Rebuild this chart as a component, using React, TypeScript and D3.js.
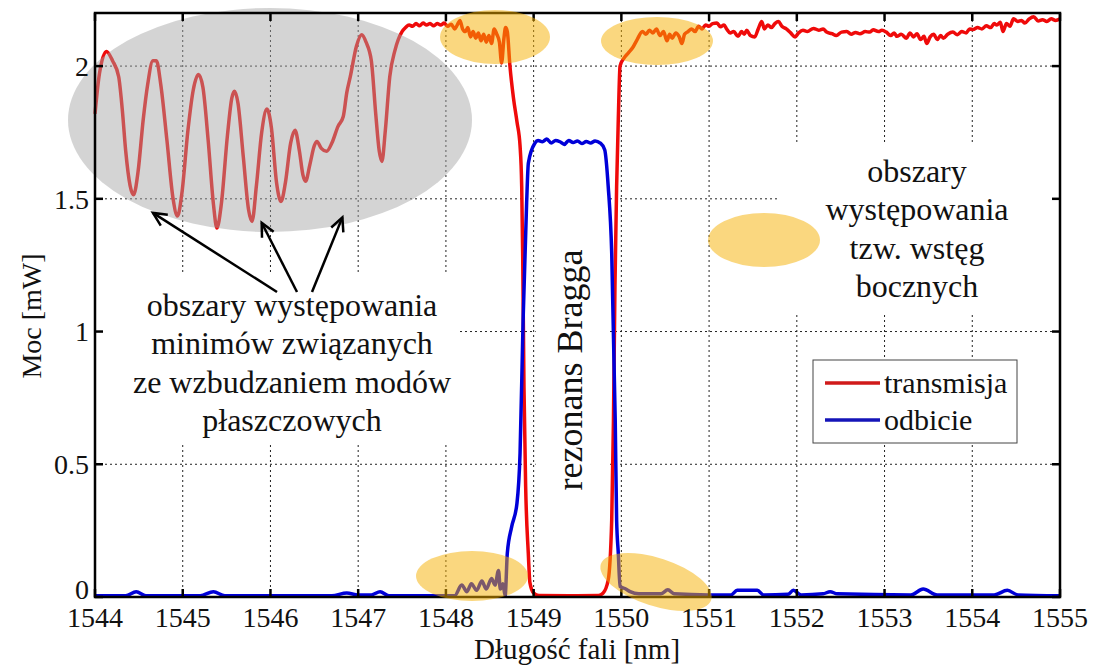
import React from 'react';
import * as d3 from 'd3';

// ---- axis ticks ----
const xTicks = [1544, 1545, 1546, 1547, 1548, 1549, 1550, 1551, 1552, 1553, 1554, 1555];
const yTicks = [0, 0.5, 1, 1.5, 2];
const yTickLabels = ['0', '0.5', '1', '1.5', '2'];

// ---- series: transmisja (wavelength nm, power mW) ----
const transmisja: [number, number][] = [
  [1544.0, 1.82], [1544.05, 1.97], [1544.13, 2.055], [1544.2, 2.02], [1544.27, 1.96], [1544.31, 1.84],
  [1544.35, 1.68], [1544.4, 1.55], [1544.44, 1.515], [1544.49, 1.6], [1544.55, 1.8], [1544.6, 1.93],
  [1544.66, 2.02], [1544.7, 2.02], [1544.75, 1.93], [1544.82, 1.72], [1544.89, 1.5], [1544.94, 1.435],
  [1544.99, 1.52], [1545.06, 1.76], [1545.12, 1.91], [1545.18, 1.968], [1545.23, 1.92], [1545.29, 1.72],
  [1545.35, 1.48], [1545.39, 1.39], [1545.44, 1.48], [1545.51, 1.74], [1545.56, 1.88], [1545.59, 1.905],
  [1545.63, 1.86], [1545.69, 1.66], [1545.75, 1.46], [1545.79, 1.415], [1545.84, 1.55], [1545.9, 1.75],
  [1545.96, 1.838], [1546.01, 1.77], [1546.07, 1.56], [1546.12, 1.49], [1546.17, 1.56], [1546.23, 1.71],
  [1546.28, 1.758], [1546.33, 1.68], [1546.37, 1.59], [1546.4, 1.566], [1546.45, 1.63], [1546.5, 1.7],
  [1546.53, 1.716], [1546.58, 1.69], [1546.64, 1.679], [1546.7, 1.71], [1546.77, 1.773], [1546.83, 1.81],
  [1546.87, 1.9], [1546.91, 1.96], [1546.98, 2.075], [1547.04, 2.118], [1547.09, 2.09], [1547.15, 2.02],
  [1547.2, 1.82], [1547.24, 1.68], [1547.27, 1.641], [1547.31, 1.76], [1547.36, 1.96], [1547.42, 2.06],
  [1547.5, 2.13], [1547.54, 2.145], [1547.58, 2.155], [1547.62, 2.15], [1547.66, 2.16], [1547.7, 2.152],
  [1547.74, 2.162], [1547.78, 2.155], [1547.82, 2.16], [1547.86, 2.152], [1547.9, 2.16], [1547.94, 2.155],
  [1547.98, 2.162], [1548.02, 2.15], [1548.06, 2.158], [1548.1, 2.14], [1548.13, 2.155], [1548.16, 2.172],
  [1548.19, 2.14], [1548.22, 2.13], [1548.25, 2.145], [1548.28, 2.11], [1548.31, 2.13], [1548.34, 2.105],
  [1548.37, 2.125], [1548.4, 2.095], [1548.43, 2.12], [1548.46, 2.09], [1548.49, 2.115], [1548.52, 2.085],
  [1548.55, 2.14], [1548.58, 2.12], [1548.61, 2.09], [1548.635, 2.012], [1548.66, 2.1], [1548.68, 2.145],
  [1548.7, 2.13], [1548.73, 2.0], [1548.77, 1.88], [1548.81, 1.79], [1548.845, 1.7], [1548.864, 1.547],
  [1548.875, 1.296], [1548.89, 0.79], [1548.909, 0.416], [1548.939, 0.165], [1548.958, 0.053], [1549.0, 0.015],
  [1549.06, 0.006], [1549.4, 0.005], [1549.74, 0.006], [1549.79, 0.014], [1549.85, 0.064], [1549.89, 0.29],
  [1549.91, 0.667], [1549.927, 1.17], [1549.946, 1.547], [1549.965, 1.8], [1549.985, 2.0], [1550.03, 2.03],
  [1550.08, 2.05], [1550.13, 2.07], [1550.18, 2.1], [1550.24, 2.13], [1550.28, 2.12], [1550.32, 2.135],
  [1550.36, 2.125], [1550.4, 2.14], [1550.44, 2.115], [1550.48, 2.13], [1550.52, 2.095], [1550.55, 2.12],
  [1550.58, 2.105], [1550.62, 2.125], [1550.66, 2.11], [1550.69, 2.085], [1550.72, 2.12], [1550.76, 2.13],
  [1550.8, 2.14], [1550.84, 2.13], [1550.88, 2.15], [1550.92, 2.14], [1550.96, 2.155], [1551.0, 2.15],
  [1551.04, 2.16], [1551.09, 2.162], [1551.13, 2.148], [1551.17, 2.155], [1551.2, 2.14], [1551.24, 2.125],
  [1551.28, 2.13], [1551.33, 2.112], [1551.37, 2.13], [1551.4, 2.12], [1551.43, 2.135], [1551.47, 2.115],
  [1551.52, 2.11], [1551.56, 2.14], [1551.6, 2.168], [1551.63, 2.14], [1551.67, 2.155], [1551.71, 2.145],
  [1551.75, 2.16], [1551.79, 2.168], [1551.83, 2.15], [1551.88, 2.14], [1551.93, 2.125], [1551.98, 2.11],
  [1552.02, 2.125], [1552.07, 2.135], [1552.12, 2.13], [1552.19, 2.142], [1552.25, 2.135], [1552.3, 2.14],
  [1552.34, 2.128], [1552.4, 2.122], [1552.45, 2.115], [1552.51, 2.128], [1552.57, 2.13], [1552.62, 2.12],
  [1552.67, 2.127], [1552.72, 2.122], [1552.78, 2.13], [1552.83, 2.128], [1552.87, 2.137], [1552.93, 2.13],
  [1552.97, 2.135], [1553.02, 2.128], [1553.07, 2.115], [1553.11, 2.125], [1553.14, 2.112], [1553.19, 2.12],
  [1553.25, 2.105], [1553.29, 2.125], [1553.33, 2.11], [1553.37, 2.122], [1553.41, 2.1], [1553.45, 2.112],
  [1553.48, 2.085], [1553.52, 2.11], [1553.56, 2.12], [1553.6, 2.1], [1553.64, 2.115], [1553.67, 2.105],
  [1553.72, 2.12], [1553.78, 2.128], [1553.83, 2.118], [1553.88, 2.13], [1553.93, 2.125], [1553.97, 2.14],
  [1554.01, 2.138], [1554.06, 2.145], [1554.11, 2.14], [1554.16, 2.152], [1554.21, 2.145], [1554.25, 2.16],
  [1554.28, 2.155], [1554.32, 2.165], [1554.35, 2.13], [1554.39, 2.16], [1554.43, 2.15], [1554.47, 2.178],
  [1554.52, 2.168], [1554.56, 2.172], [1554.6, 2.162], [1554.65, 2.178], [1554.7, 2.186], [1554.75, 2.17],
  [1554.8, 2.175], [1554.85, 2.168], [1554.9, 2.178], [1554.95, 2.172], [1555.0, 2.178],
];

// ---- series: odbicie (wavelength nm, power mW) ----
const odbicie: [number, number][] = [
  [1544.0, 0.005], [1544.35, 0.005], [1544.47, 0.02], [1544.58, 0.005], [1545.2, 0.005], [1545.35, 0.02],
  [1545.48, 0.005], [1546.7, 0.005], [1546.87, 0.015], [1547.0, 0.008], [1547.15, 0.008], [1547.25, 0.02],
  [1547.35, 0.005], [1548.1, 0.005], [1548.18, 0.045], [1548.24, 0.02], [1548.29, 0.05], [1548.35, 0.025],
  [1548.41, 0.06], [1548.46, 0.03], [1548.52, 0.07], [1548.56, 0.045], [1548.6, 0.1], [1548.62, 0.03],
  [1548.65, 0.05], [1548.675, 0.005], [1548.7, 0.165], [1548.75, 0.265], [1548.81, 0.353], [1548.845, 0.54],
  [1548.88, 1.044], [1548.92, 1.484], [1548.94, 1.635], [1549.015, 1.71], [1549.05, 1.72], [1549.1, 1.715],
  [1549.15, 1.725], [1549.2, 1.71], [1549.25, 1.72], [1549.3, 1.715], [1549.35, 1.705], [1549.4, 1.72],
  [1549.45, 1.712], [1549.5, 1.718], [1549.55, 1.708], [1549.6, 1.716], [1549.65, 1.71], [1549.7, 1.718],
  [1549.76, 1.71], [1549.81, 1.685], [1549.85, 1.547], [1549.89, 1.296], [1549.93, 0.667], [1549.946, 0.29],
  [1549.965, 0.165], [1549.985, 0.04], [1550.05, 0.03], [1550.1, 0.02], [1550.2, 0.012], [1550.45, 0.012],
  [1550.53, 0.027], [1550.6, 0.012], [1551.0, 0.008], [1551.25, 0.008], [1551.32, 0.025], [1551.55, 0.025],
  [1551.62, 0.008], [1551.9, 0.01], [1551.96, 0.025], [1552.05, 0.008], [1552.3, 0.012], [1552.38, 0.02],
  [1552.46, 0.012], [1553.3, 0.008], [1553.44, 0.03], [1553.6, 0.008], [1554.25, 0.008], [1554.4, 0.025],
  [1554.52, 0.008], [1555.0, 0.005],
];

// ---- annotation anchors (data units) ----
const arrowTargets: [number, number][] = [[1544.66, 1.447], [1545.9, 1.41], [1546.82, 1.43]];
const leftText = ['obszary występowania', 'minimów związanych', 'ze wzbudzaniem modów', 'płaszczowych'];
const rightText = ['obszary', 'występowania', 'tzw. wstęg', 'bocznych'];
const legendItems = [
  { label: 'transmisja', color: '#d01a1a' },
  { label: 'odbicie', color: '#1414b8' },
];

const FONT = '"Liberation Serif", "Times New Roman", serif';
const tf = { fontFamily: FONT };

export default function App() {
  const W = 1093;
  const H = 666;
  const x = d3.scaleLinear().domain([1544, 1555]).range([95, 1060]);
  const y = d3.scaleLinear().domain([0, 2.2]).range([597, 13]);
  const line = d3
    .line<[number, number]>()
    .x((d) => x(d[0]))
    .y((d) => y(d[1]))
    .curve(d3.curveMonotoneX);

  const [x0, x1] = x.range();
  const [yb, yt] = y.range();

  const arrowStarts: [number, number][] = [[277, 292], [297, 292], [312, 292]];
  const arrowHead = (sx: number, sy: number, tx: number, ty: number) => {
    const a = Math.atan2(ty - sy, tx - sx);
    const L = 15;
    const s = 0.45;
    const p1 = [tx - L * Math.cos(a - s), ty - L * Math.sin(a - s)];
    const p2 = [tx - L * Math.cos(a + s), ty - L * Math.sin(a + s)];
    return `M${p1[0]},${p1[1]}L${tx},${ty}L${p2[0]},${p2[1]}`;
  };

  return (
    <svg width={W} height={H} style={{ position: 'absolute', left: 0, top: 0, background: '#fff', fontFamily: FONT }}>
      <rect x={0} y={0} width={W} height={H} fill="#fff" />
      {/* grid */}
      <g stroke="#222" strokeWidth={1} strokeDasharray="2,3">
        {xTicks.slice(1, -1).map((t) => (
          <line key={'gx' + t} x1={x(t)} x2={x(t)} y1={yb} y2={yt} />
        ))}
        {yTicks.slice(1).map((t) => (
          <line key={'gy' + t} x1={x0} x2={x1} y1={y(t)} y2={y(t)} />
        ))}
      </g>
      {/* white boxes behind annotation texts */}
      <rect x={x0 + 8} y={274} width={357} height={169} fill="#fff" />
      <rect x={x(1549) + 2} y={y(1.68)} width={x(1549.86) - x(1549) - 2} height={y(0.03) - y(1.68)} fill="#fff" />
      <rect x={780} y={143} width={x1 - 3 - 780} height={169} fill="#fff" />

      {/* curves */}
      <path d={line(transmisja) || ''} fill="none" stroke="#ef0a0a" strokeWidth={3.5} strokeLinejoin="round" />
      <path d={line(odbicie) || ''} fill="none" stroke="#0000d8" strokeWidth={3.5} strokeLinejoin="round" />

      {/* gray ellipse */}
      <ellipse cx={270} cy={120} rx={202} ry={112} fill="#a3a3a3" fillOpacity={0.47} />

      {/* axes frame */}
      <rect x={x0} y={yt} width={x1 - x0} height={yb - yt} fill="none" stroke="#000" strokeWidth={2.5} />
      <g stroke="#000" strokeWidth={2.5}>
        {xTicks.map((t) => (
          <g key={'tx' + t}>
            <line x1={x(t)} x2={x(t)} y1={yb} y2={yb - 8} />
            <line x1={x(t)} x2={x(t)} y1={yt} y2={yt + 8} />
          </g>
        ))}
        {yTicks.map((t) => (
          <g key={'ty' + t}>
            <line x1={x0} x2={x0 + 8} y1={y(t)} y2={y(t)} />
            <line x1={x1} x2={x1 - 8} y1={y(t)} y2={y(t)} />
          </g>
        ))}
      </g>

      {/* orange ellipses */}
      <g fill="#f5b000" fillOpacity={0.5}>
        <ellipse cx={495} cy={37} rx={55} ry={27} />
        <ellipse cx={657} cy={41} rx={56} ry={24} />
        <ellipse cx={764} cy={240} rx={56} ry={27} />
        <ellipse cx={472} cy={576} rx={56} ry={25} />
        <ellipse cx={656} cy={582} rx={58} ry={24} transform="rotate(18 656 582)" />
      </g>

      {/* tick labels */}
      <g fontSize={28} fill="#111">
        {xTicks.map((t) => (
          <text key={'lx' + t} style={tf} x={x(t)} y={627} textAnchor="middle">
            {t}
          </text>
        ))}
        {yTicks.map((t, i) => (
          <text key={'ly' + t} style={tf} x={89} y={y(t) - (t === 0 ? 8 : 0)} dy="0.35em" textAnchor="end">
            {yTickLabels[i]}
          </text>
        ))}
      </g>

      {/* axis titles */}
      <text style={tf} x={577} y={659} textAnchor="middle" fontSize={29} fill="#111">
        Długość fali [nm]
      </text>
      <text style={tf} transform="translate(41,316) rotate(-90)" textAnchor="middle" fontSize={28} fill="#111">
        Moc [mW]
      </text>

      {/* left annotation */}
      <g fontSize={32} fill="#111" textAnchor="middle">
        {leftText.map((s, i) => (
          <text key={'lt' + i} style={tf} x={292} y={316 + i * 38.4}>
            {s}
          </text>
        ))}
      </g>
      <g stroke="#000" strokeWidth={2.5} fill="none">
        {arrowTargets.map((t, i) => {
          const [sx, sy] = arrowStarts[i];
          const tx = x(t[0]);
          const ty = y(t[1]);
          return (
            <g key={'ar' + i}>
              <line x1={sx} y1={sy} x2={tx} y2={ty} />
              <path d={arrowHead(sx, sy, tx, ty)} />
            </g>
          );
        })}
      </g>

      {/* rezonans Bragga */}
      <text style={tf} transform="translate(582,370) rotate(-90)" textAnchor="middle" fontSize={36} fill="#111">
        rezonans Bragga
      </text>

      {/* right annotation */}
      <g fontSize={32} fill="#111" textAnchor="middle">
        {rightText.map((s, i) => (
          <text key={'rt' + i} style={tf} x={917} y={182 + i * 38.4}>
            {s}
          </text>
        ))}
      </g>

      {/* legend */}
      <rect x={813} y={360} width={204} height={83} fill="#fff" stroke="#444" strokeWidth={1} />
      {legendItems.map((it, i) => (
        <g key={'lg' + i}>
          <line x1={825} x2={880} y1={383 + i * 37} y2={383 + i * 37} stroke={it.color} strokeWidth={3.5} />
          <text style={tf} x={884} y={393 + i * 37} fontSize={30} fill="#111">
            {it.label}
          </text>
        </g>
      ))}
    </svg>
  );
}
